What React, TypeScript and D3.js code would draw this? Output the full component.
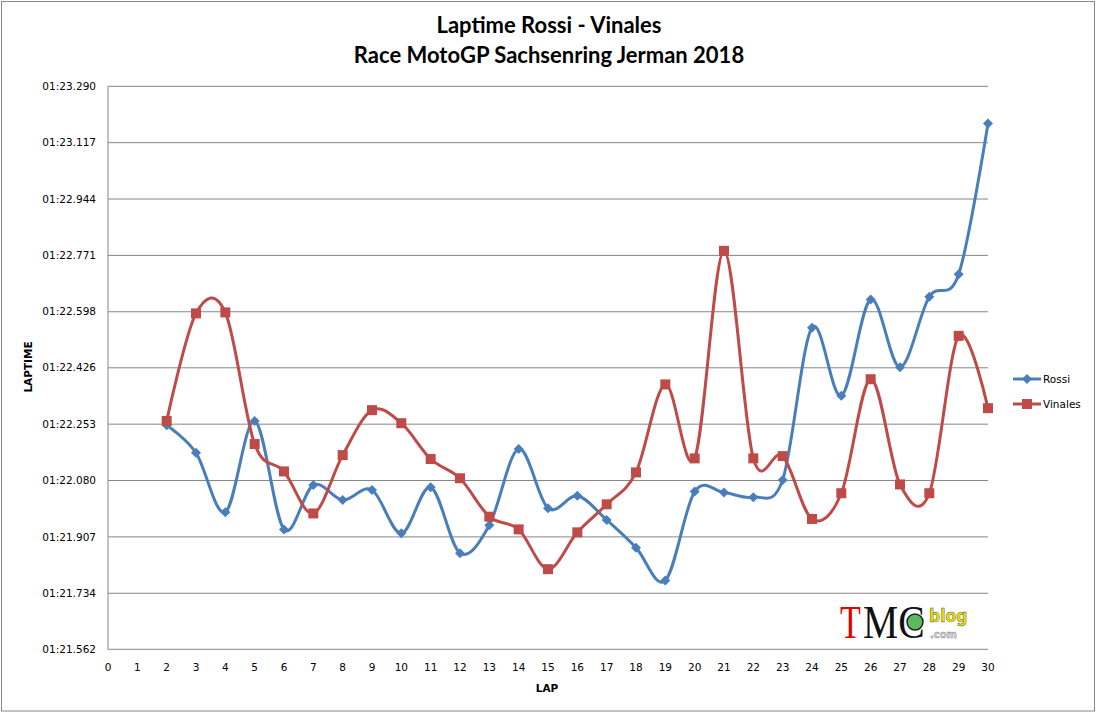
import React from "react";
import * as d3 from "d3";

// lap numbers shown on the x axis and the laps that have a time
const xTicks = d3.range(0, 31);
const laps = d3.range(2, 31);

// lap times in seconds (01:22.250 -> 82.250)
const rossi = [
  82.25, 82.165, 81.983, 82.263, 81.93, 82.066, 82.02, 82.051, 81.918, 82.059,
  81.857, 81.943, 82.177, 81.995, 82.033, 81.959, 81.874, 81.773, 82.046, 82.043,
  82.029, 82.082, 82.549, 82.34, 82.636, 82.428, 82.644, 82.713, 83.176,
];
const vinales = [
  82.263, 82.593, 82.596, 82.192, 82.108, 81.979, 82.158, 82.296, 82.256, 82.146,
  82.087, 81.969, 81.93, 81.808, 81.921, 82.007, 82.105, 82.375, 82.148, 82.785,
  82.148, 82.155, 81.962, 82.041, 82.391, 82.068, 82.041, 82.524, 82.302,
];

const yTickLabels = [
  "01:21.562", "01:21.734", "01:21.907", "01:22.080", "01:22.253", "01:22.426",
  "01:22.598", "01:22.771", "01:22.944", "01:23.117", "01:23.290",
];

const toSeconds = (s: string) => {
  const [m, rest] = s.split(":");
  return +m * 60 + +rest;
};

const W = 1097;
const H = 714;
const plot = { left: 108, right: 988, top: 86.3, bottom: 649.3 };

const App: React.FC = () => {
  const x = d3.scaleLinear().domain([0, 30]).range([plot.left, plot.right]);
  const y = d3
    .scaleLinear()
    .domain([toSeconds(yTickLabels[0]), toSeconds(yTickLabels[yTickLabels.length - 1])])
    .range([plot.bottom, plot.top]);

  const line = d3
    .line<[number, number]>()
    .x((d) => x(d[0]))
    .y((d) => y(d[1]))
    .curve(d3.curveCatmullRom.alpha(0));

  const series = [
    { name: "Rossi", values: rossi, color: "#4A7EBB", marker: "diamond" },
    { name: "Vinales", values: vinales, color: "#BE4B48", marker: "square" },
  ];

  const marker = (type: string, cx: number, cy: number, color: string, key: any) =>
    type === "diamond" ? (
      <path
        key={key}
        d={`M${cx},${cy - 5}L${cx + 5},${cy}L${cx},${cy + 5}L${cx - 5},${cy}Z`}
        fill={color}
      />
    ) : (
      <rect key={key} x={cx - 5} y={cy - 5} width={10} height={10} fill={color} />
    );

  const tickFont = "'DejaVu Sans', Tahoma, sans-serif";
  const titleFont = "Lato, 'Open Sans', sans-serif";

  return (
    <div style={{ position: "absolute", left: 0, top: 0 }}>
      <svg width={W} height={H} style={{ display: "block", background: "#fff" }}>
        <rect x={1.5} y={1.5} width={1093} height={709.5} fill="#fff" stroke="#888" />

        {/* title */}
        <text x={549} y={33} textAnchor="middle" fontFamily={titleFont} fontWeight={700} fontSize={22}>
          Laptime Rossi - Vinales
        </text>
        <text x={549} y={63} textAnchor="middle" fontFamily={titleFont} fontWeight={700} fontSize={22}>
          Race MotoGP Sachsenring Jerman 2018
        </text>

        {/* grid + y labels */}
        {yTickLabels.map((t) => (
          <g key={t}>
            <line x1={plot.left} x2={plot.right} y1={y(toSeconds(t))} y2={y(toSeconds(t))} stroke="#868686" />
            <text
              x={96}
              y={y(toSeconds(t))}
              dy="0.35em"
              textAnchor="end"
              fontFamily={tickFont}
              fontSize={10.5}
              fill="#000"
            >
              {t}
            </text>
          </g>
        ))}
        <line x1={plot.left} x2={plot.left} y1={plot.top} y2={plot.bottom} stroke="#868686" />

        {/* x labels */}
        {xTicks.map((t) => (
          <text key={t} x={x(t)} y={671} textAnchor="middle" fontFamily={tickFont} fontSize={10.5}>
            {t}
          </text>
        ))}
        <text x={547} y={692} textAnchor="middle" fontFamily={tickFont} fontWeight={700} fontSize={10.5}>
          LAP
        </text>
        <text
          transform={`translate(32,367) rotate(-90)`}
          textAnchor="middle"
          fontFamily={tickFont}
          fontWeight={700}
          fontSize={10.5}
        >
          LAPTIME
        </text>

        {/* series */}
        {series.map((s) => {
          const pts = laps.map((l, i) => [l, s.values[i]] as [number, number]);
          return (
            <g key={s.name}>
              <path d={line(pts) || ""} fill="none" stroke={s.color} strokeWidth={3} />
              {pts.map((p, i) => marker(s.marker, x(p[0]), y(p[1]), s.color, i))}
            </g>
          );
        })}

        {/* legend */}
        {series.map((s, i) => {
          const ly = 379 + i * 25;
          return (
            <g key={s.name}>
              <line x1={1013} x2={1041} y1={ly} y2={ly} stroke={s.color} strokeWidth={3} />
              {marker(s.marker, 1027, ly, s.color, "m")}
              <text x={1043} y={ly} dy="0.35em" fontFamily={tickFont} fontSize={10.5}>
                {s.name}
              </text>
            </g>
          );
        })}

        {/* watermark, squeezed horizontally with transforms */}
        <circle cx={915} cy={622} r={8} fill="#5cb85c" stroke="#222" strokeWidth={1.5} />
        <text
          transform="translate(840,638) scale(0.74,1)"
          fontFamily="'Liberation Serif', serif"
          fontSize={46}
          fill="#e30000"
        >
          T
        </text>
        <text
          transform="translate(863,638) scale(0.86,1)"
          fontFamily="'Liberation Serif', serif"
          fontSize={46}
          fill="#111"
        >
          MC
        </text>
        <text
          transform="translate(929,622) scale(0.92,1)"
          fontFamily="'DejaVu Sans', sans-serif"
          fontWeight={700}
          fontSize={17}
          fill="#e8e000"
          stroke="#555"
          strokeWidth={0.5}
        >
          blog
        </text>
        <text
          x={930}
          y={638}
          fontFamily="'DejaVu Sans', sans-serif"
          fontWeight={700}
          fontSize={10}
          fill="#d8d8d8"
          stroke="#777"
          strokeWidth={0.4}
        >
          .com
        </text>
      </svg>
    </div>
  );
};

export default App;
